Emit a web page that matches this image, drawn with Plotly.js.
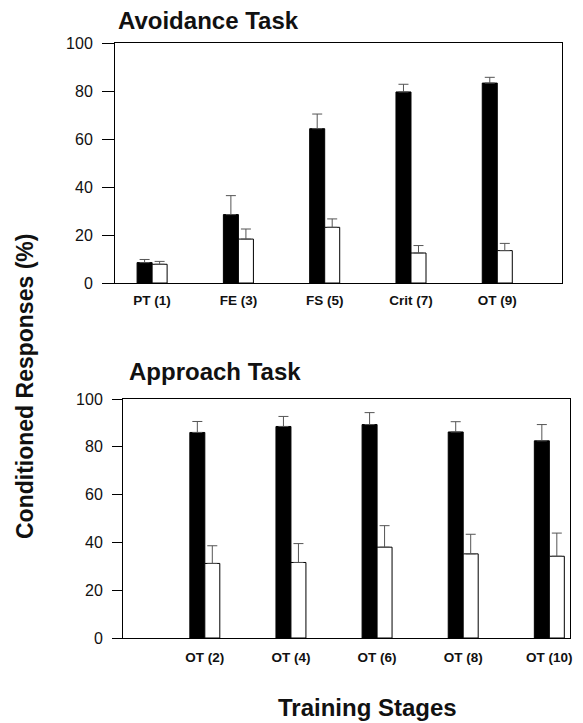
<!DOCTYPE html>
<html>
<head>
<meta charset="utf-8">
<script src="https://cdn.plot.ly/plotly-3.0.1.min.js"></script>
<style>html,body{margin:0;padding:0;background:#fff;}#chart{width:583px;height:723px;}</style>
</head>
<body>
<div id="chart"></div>
<script>
// Avoidance task (top panel)
const avoidStages = ["PT (1)", "FE (3)", "FS (5)", "Crit (7)", "OT (9)"];
const avoidBlack = [8.5, 28.5, 64.3, 79.6, 83.3];
const avoidBlackErr = [1.3, 7.9, 6.1, 3.2, 2.4];
const avoidWhite = [7.8, 18.3, 23.2, 12.5, 13.5];
const avoidWhiteErr = [1.2, 4.2, 3.5, 3.1, 3.0];

// Approach task (bottom panel)
const approachStages = ["OT (2)", "OT (4)", "OT (6)", "OT (8)", "OT (10)"];
const approachBlack = [86.0, 88.5, 89.3, 86.2, 82.5];
const approachBlackErr = [4.6, 4.2, 5.0, 4.3, 6.8];
const approachWhite = [31.2, 31.6, 38.0, 35.2, 34.2];
const approachWhiteErr = [7.4, 7.9, 9.0, 8.2, 9.7];

const yTicks = [0, 20, 40, 60, 80, 100];

function errSpec(arr) {
  return {type: 'data', array: arr, arrayminus: arr.map(() => 0), symmetric: false,
          color: '#555', thickness: 1, width: 5};
}
function barTrace(x, y, err, fill, xa, ya) {
  return {type: 'bar', x: x, y: y, xaxis: xa, yaxis: ya, showlegend: false,
          marker: {color: fill, line: {color: '#000', width: 1}},
          error_y: errSpec(err), hoverinfo: 'skip'};
}

const data = [
  barTrace(avoidStages, avoidBlack, avoidBlackErr, '#000', 'x', 'y'),
  barTrace(avoidStages, avoidWhite, avoidWhiteErr, '#fff', 'x', 'y'),
  barTrace(approachStages, approachBlack, approachBlackErr, '#000', 'x2', 'y2'),
  barTrace(approachStages, approachWhite, approachWhiteErr, '#fff', 'x2', 'y2')
];

const W = 583, H = 723;
const FAM = 'Liberation Sans, Arial, sans-serif';
const tickFont = {family: FAM, size: 16, color: '#111'};
const catFont = {family: FAM, size: 13.5, color: '#111', weight: 'bold'};
const titleFont = {family: FAM, size: 24, color: '#111', weight: 'bold'};

function yAxis(domain, anchor, tlen) {
  return {domain: domain, anchor: anchor, range: [0, 100], tickvals: yTicks, ticktext: yTicks.map(String),
          ticks: 'outside', ticklen: tlen, tickwidth: 1, tickcolor: '#000', ticklabelstandoff: 6,
          showgrid: false, zeroline: false,
          showline: true, linecolor: '#000', linewidth: 1, mirror: true, tickfont: tickFont, fixedrange: true};
}
function xAxis(domain, anchor, range, standoff) {
  return {domain: domain, anchor: anchor, type: 'category', range: range, ticks: '', showgrid: false,
          ticklabelstandoff: standoff,
          showline: true, linecolor: '#000', linewidth: 1, mirror: true, tickfont: catFont, fixedrange: true};
}

const layout = {
  width: W, height: H,
  margin: {l: 0, r: 0, t: 0, b: 0},
  paper_bgcolor: '#fff', plot_bgcolor: '#fff',
  barmode: 'group', bargap: 0.652, bargroupgap: 0,
  xaxis: xAxis([115 / W, 562 / W], 'y', [-0.43, 4.75], 5),
  yaxis: yAxis([1 - 283 / H, 1 - 43 / H], 'x', 12),
  xaxis2: xAxis([123 / W, 570 / W], 'y2', [-0.95, 4.24], 7),
  yaxis2: yAxis([1 - 638 / H, 1 - 399 / H], 'x2', 10),
  annotations: [
    {text: 'Avoidance Task', xref: 'paper', yref: 'paper', x: 116 / W, y: 1 - 20 / H,
     xanchor: 'left', yanchor: 'middle', showarrow: false, font: titleFont},
    {text: 'Approach Task', xref: 'paper', yref: 'paper', x: 127 / W, y: 1 - 372 / H,
     xanchor: 'left', yanchor: 'middle', showarrow: false, font: titleFont},
    {text: 'Training Stages', xref: 'paper', yref: 'paper', x: 367 / W, y: 1 - 707 / H,
     xanchor: 'center', yanchor: 'middle', showarrow: false, font: titleFont},
    {text: 'Conditioned Responses (%)', xref: 'paper', yref: 'paper', x: 25 / W, y: 1 - 387 / H,
     xanchor: 'center', yanchor: 'middle', textangle: -90, showarrow: false,
     font: {family: FAM, size: 23, color: '#111', weight: 'bold'}}
  ]
};

Plotly.newPlot('chart', data, layout, {displayModeBar: false, staticPlot: true});
</script>
</body>
</html>
